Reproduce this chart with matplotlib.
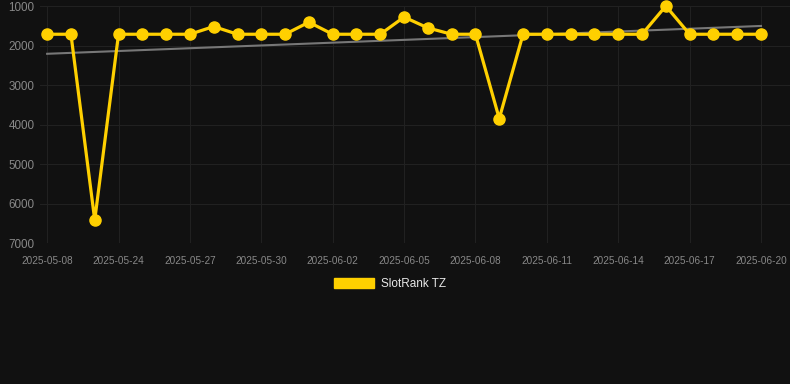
import matplotlib
matplotlib.use('Agg')
import matplotlib.pyplot as plt
from matplotlib.patches import Patch

plt.rcParams['font.family'] = ['Liberation Sans', 'DejaVu Sans']

# slot rank per day (lower is better, axis inverted)
dates = ['2025-05-08', '2025-05-22', '2025-05-23', '2025-05-24', '2025-05-25', '2025-05-26',
         '2025-05-27', '2025-05-28', '2025-05-29', '2025-05-30', '2025-05-31', '2025-06-01',
         '2025-06-02', '2025-06-03', '2025-06-04', '2025-06-05', '2025-06-06', '2025-06-07',
         '2025-06-08', '2025-06-09', '2025-06-10', '2025-06-11', '2025-06-12', '2025-06-13',
         '2025-06-14', '2025-06-15', '2025-06-16', '2025-06-17', '2025-06-18', '2025-06-19',
         '2025-06-20']
ranks = [1715, 1715, 6420, 1715, 1715, 1715, 1715, 1520, 1715, 1715, 1715, 1410,
         1715, 1715, 1715, 1280, 1555, 1715, 1715, 3850, 1715, 1715, 1715, 1715,
         1715, 1715, 1000, 1715, 1715, 1715, 1715]
trend_ends = [2210, 1505]
y_ticks = [1000, 2000, 3000, 4000, 5000, 6000, 7000]

bg = '#111111'
yellow = '#FFD000'

fig = plt.figure(figsize=(7.9, 3.84), dpi=100, facecolor=bg)
ax = fig.add_axes([40/790, 1 - 243/384, 750/790, 237/384], facecolor=bg)

x = list(range(len(dates)))
ax.plot([x[0], x[-1]], trend_ends, color='#777777', lw=1.5, zorder=2)
ax.plot(x, ranks, color=yellow, lw=2.3, marker='o', markersize=8,
        solid_joinstyle='miter', zorder=3, clip_on=False)

ax.set_ylim(7000, 1000)
ax.set_xlim(-0.3, 30 + 29/23.8)
ax.set_yticks(y_ticks)
ax.set_yticklabels([str(v) for v in y_ticks])
ax.set_xticks(x[::3])
ax.set_xticklabels(dates[::3])

ax.grid(True, color='#212121', lw=0.8)
ax.set_axisbelow(True)
for s in ax.spines.values():
    s.set_visible(False)
ax.tick_params(axis='both', length=0, colors='#888888')
ax.tick_params(axis='y', labelsize=8.4, pad=4)
ax.tick_params(axis='x', labelsize=7.2, pad=9)

leg = fig.legend(handles=[Patch(facecolor=yellow, edgecolor=yellow)], labels=['SlotRank TZ'],
                 loc='center', bbox_to_anchor=(390/790, 1 - 284/384), frameon=False,
                 handlelength=3.4, handleheight=0.9, handletextpad=0.6, fontsize=8.5)
for t in leg.get_texts():
    t.set_color('#e8e8e8')

plt.savefig('out.png', dpi=100, facecolor=bg)
